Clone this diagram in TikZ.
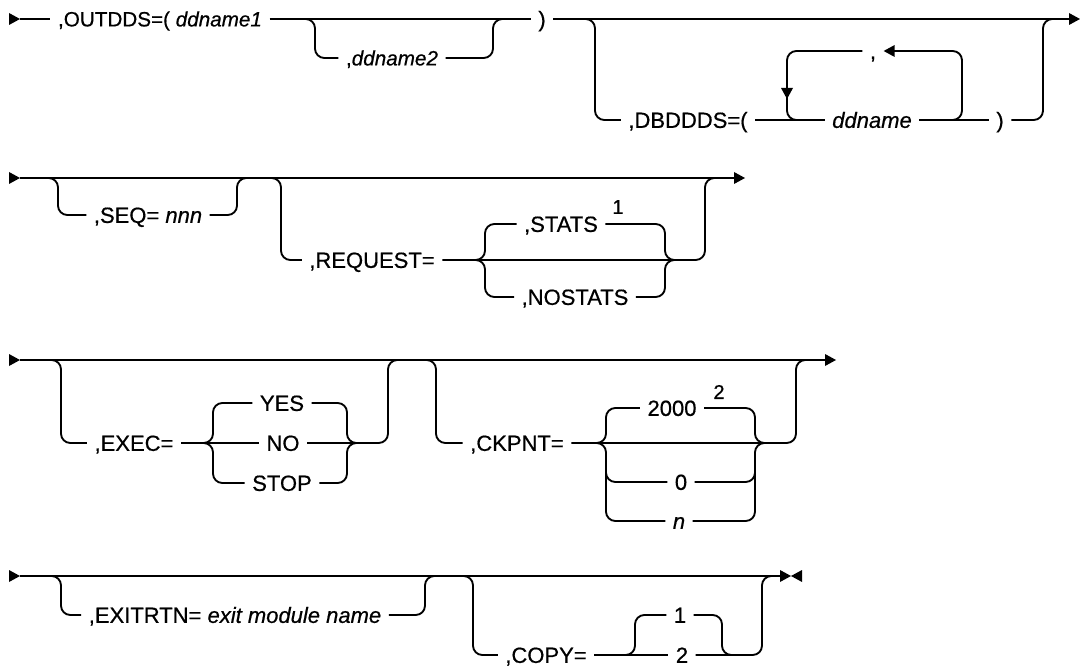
\documentclass[tikz,border=0pt]{standalone}
\usepackage{fontspec}
\setmainfont{Liberation Sans}[BoldFont=Liberation Sans, BoldFeatures={FakeBold=0.6}, BoldItalicFont=Liberation Sans Italic, BoldItalicFeatures={FakeBold=0.6}]
\usetikzlibrary{calc}
\newcommand\railR[1]{\fill (#1) ++(0,-6) -- ++(11,6) -- ++(-11,6) -- cycle;}
\newcommand\railLtip[1]{\fill (#1) -- ++(11,-6) -- ++(0,12) -- cycle;}
\newcommand\railDtip[1]{\fill (#1) -- ++(-6,-11) -- ++(12,0) -- cycle;}
\begin{document}
\begin{tikzpicture}[x=0.75pt,y=-0.75pt,
  rail/.style={line width=1.4pt, rounded corners=7pt},
  lbl/.style={font=\fontsize{15.5}{18}\selectfont\bfseries, inner xsep=5.5pt, inner ysep=0pt, text height=11.1pt, text depth=0pt},
  lblb/.style={font=\fontsize{16.5}{19}\selectfont\bfseries, inner xsep=5.5pt, inner ysep=0pt, text height=11.8pt, text depth=0pt},
  supl/.style={font=\fontsize{15}{17}\selectfont\bfseries, inner sep=0pt}]
\useasboundingbox (0,0) rectangle (1080,666);
% ---------------- Row 1
\coordinate (s1) at (20,19);
\coordinate (e1) at (1069,19);
\node[lbl] (outdds) at (160,19) {,OUTDDS=( \textit{ddname1}};
\node[lbl] (dd2) at (392,58) {,\textit{ddname2}};
\node[lblb] (rp1) at (542,19) {)};
\node[lblb] (dbd) at (688,120) {,DBDDDS=(};
\node[lblb] (ddn) at (872,120) {\textit{ddname}};
\node[lblb] (comma) at (873,51) {,};
\node[lblb] (rp2) at (1000,120) {)};
\railR{9,19}
\draw[rail] (s1) -- (outdds.west);
\draw[rail] (outdds.east) -- (rp1.west);
\draw[rail] (305,19) -- (315,19) -- (315,58) -- (dd2.west);
\draw[rail] (dd2.east) -- (493,58) -- (493,19) -- (503,19);
\draw[rail] (rp1.east) -- (e1);
\railR{e1}
\draw[rail] (585,19) -- (595,19) -- (595,120) -- (dbd.west);
\draw[rail] (dbd.east) -- (ddn.west);
\draw[rail] (ddn.east) -- (rp2.west);
\draw[rail] (rp2.east) -- (1043,120) -- (1043,19) -- (1053,19);
\draw[rail] (950,120) -- (962,120) -- (962,51) -- ($(comma.east)+(10,0)$);
\railLtip{comma.east}
\draw[rail] (comma.west) -- (787,51) -- (787,120) -- (800,120);
\railDtip{787,99}
% ---------------- Row 2
\coordinate (s2) at (20,178);
\coordinate (e2) at (734,178);
\railR{9,178}
\draw[rail] (s2) -- (e2);
\railR{e2}
\node[lblb] (seq) at (148,215) {,SEQ= \textit{nnn}};
\draw[rail] (48,178) -- (58,178) -- (58,215) -- (seq.west);
\draw[rail] (seq.east) -- (237,215) -- (237,178) -- (247,178);
\node[lblb] (req) at (372,260) {,REQUEST=};
\draw[rail] (271,178) -- (281,178) -- (281,260) -- (req.west);
\draw[rail] (req.east) -- (705,260) -- (705,178) -- (715,178);
\node[lblb] (stats) at (561,224) {,STATS};
\node[supl] (fn1) at (618,207) {1};
\node[lblb] (nostats) at (575,297) {,NOSTATS};
\draw[rail] (475,260) -- (485,260) -- (485,224) -- (stats.west);
\draw[rail] (475,260) -- (485,260) -- (485,297) -- (nostats.west);
\draw[rail] (stats.east) -- (665,224) -- (665,260) -- (675,260);
\draw[rail] (nostats.east) -- (665,297) -- (665,260) -- (675,260);
% ---------------- Row 3
\coordinate (s3) at (20,360);
\coordinate (e3) at (825,360);
\railR{9,360}
\draw[rail] (s3) -- (e3);
\railR{e3}
\node[lblb] (exec) at (134,443) {,EXEC=};
\node[lblb] (yes) at (282,403) {YES};
\node[lblb] (no) at (283,443) {NO};
\node[lblb] (stop) at (282,483) {STOP};
\draw[rail] (51,360) -- (61,360) -- (61,443) -- (exec.west);
\draw[rail] (exec.east) -- (no.west);
\draw[rail] (203,443) -- (213,443) -- (213,403) -- (yes.west);
\draw[rail] (203,443) -- (213,443) -- (213,483) -- (stop.west);
\draw[rail] (yes.east) -- (347,403) -- (347,443) -- (357,443);
\draw[rail] (stop.east) -- (347,483) -- (347,443) -- (357,443);
\draw[rail] (no.east) -- (388,443) -- (388,360) -- (398,360);
\node[lblb] (ck) at (517,443) {,CKPNT=};
\node[lblb] (k2000) at (672,408) {2000};
\node[supl] (fn2) at (719,392) {2};
\node[lblb] (k0) at (681,482) {0};
\node[lblb] (kn) at (679,521) {\textit{n}};
\draw[rail] (426,360) -- (436,360) -- (436,443) -- (ck.west);
\draw[rail] (ck.east) -- (796,443) -- (796,360) -- (806,360);
\draw[rail] (596,443) -- (606,443) -- (606,408) -- (k2000.west);
\draw[rail] (596,443) -- (606,443) -- (606,521) -- (kn.west);
\draw[rail] (606,472) -- (606,482) -- (k0.west);
\draw[rail] (k2000.east) -- (755,408) -- (755,443) -- (765,443);
\draw[rail] (kn.east) -- (755,521) -- (755,443) -- (765,443);
\draw[rail] (k0.east) -- (755,482) -- (755,472);
% ---------------- Row 4
\coordinate (s4) at (20,576);
\coordinate (e4) at (780,576);
\railR{9,576}
\draw[rail] (s4) -- (e4);
\railR{e4}
\fill (791,576) -- (802,570) -- (802,582) -- cycle;
\node[lblb] (exit) at (235,615) {,EXITRTN= \textit{exit module name}};
\draw[rail] (51,576) -- (61,576) -- (61,615) -- (exit.west);
\draw[rail] (exit.east) -- (425,615) -- (425,576) -- (435,576);
\node[lblb] (copy) at (546,655) {,COPY=};
\node[lblb] (c1) at (680,615) {1};
\node[lblb] (c2) at (682,655) {2};
\draw[rail] (463,576) -- (473,576) -- (473,655) -- (copy.west);
\draw[rail] (copy.east) -- (c2.west);
\draw[rail] (625,655) -- (635,655) -- (635,615) -- (c1.west);
\draw[rail] (c1.east) -- (722,615) -- (722,655) -- (732,655);
\draw[rail] (c2.east) -- (762,655) -- (762,576) -- (772,576);
\end{tikzpicture}
\end{document}
